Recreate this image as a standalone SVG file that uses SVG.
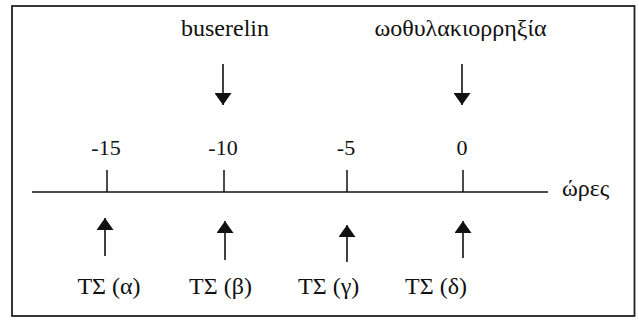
<svg xmlns="http://www.w3.org/2000/svg" width="639" height="321" viewBox="0 0 639 321">
<style>
.t{font-family:"Liberation Serif","Times New Roman",serif;fill:#111;}
.w{font-size:24px;}
.n{font-size:22px;}
.ln{stroke:#111;stroke-width:1.5;fill:none;}
.ar{stroke:#111;stroke-width:1.6;fill:none;marker-end:url(#ah);}
</style>
<defs>
<marker id="ah" viewBox="0 0 12 17" refX="12" refY="8.5" markerWidth="12" markerHeight="17" markerUnits="userSpaceOnUse" orient="auto">
<path d="M0,0 L12,8.5 L0,17 z" fill="#111"/>
</marker>
</defs>
<rect x="12" y="6" width="622.5" height="310" fill="#fff" stroke="#222" stroke-width="1.8"/>
<g id="axis">
<line class="ln" x1="32" y1="192" x2="548" y2="192"/>
<text class="t w" x="562" y="196">ώρες</text>
</g>
<g id="tick-m15">
<line class="ln" x1="107" y1="170" x2="107" y2="192"/>
<text class="t n" x="106" y="155" text-anchor="middle">-15</text>
</g>
<g id="tick-m10">
<line class="ln" x1="224" y1="170" x2="224" y2="192"/>
<text class="t n" x="223" y="155" text-anchor="middle">-10</text>
</g>
<g id="tick-m5">
<line class="ln" x1="347" y1="170" x2="347" y2="192"/>
<text class="t n" x="346" y="155" text-anchor="middle">-5</text>
</g>
<g id="tick-0">
<line class="ln" x1="463" y1="170" x2="463" y2="192"/>
<text class="t n" x="462" y="155" text-anchor="middle">0</text>
</g>
<g id="buserelin">
<text class="t w" x="225" y="36" text-anchor="middle">buserelin</text>
</g>
<g id="ovulation">
<text class="t w" x="460.5" y="36" text-anchor="middle">ωοθυλακιορρηξία</text>
</g>
<g id="ts-a"><text class="t w" x="109" y="294" text-anchor="middle">ΤΣ (α)</text></g>
<g id="ts-b"><text class="t w" x="220.5" y="294" text-anchor="middle">ΤΣ (β)</text></g>
<g id="ts-c"><text class="t w" x="328.7" y="294" text-anchor="middle">ΤΣ (γ)</text></g>
<g id="ts-d"><text class="t w" x="436" y="294" text-anchor="middle">ΤΣ (δ)</text></g>
<g id="connectors">
<line class="ar" x1="223" y1="64" x2="223" y2="105"/>
<line class="ar" x1="462" y1="64" x2="462" y2="105"/>
<line class="ar" x1="105" y1="256" x2="105" y2="218"/>
<line class="ar" x1="225" y1="260" x2="225" y2="221"/>
<line class="ar" x1="347" y1="262" x2="347" y2="225"/>
<line class="ar" x1="463" y1="258" x2="463" y2="221"/>
</g>
</svg>
